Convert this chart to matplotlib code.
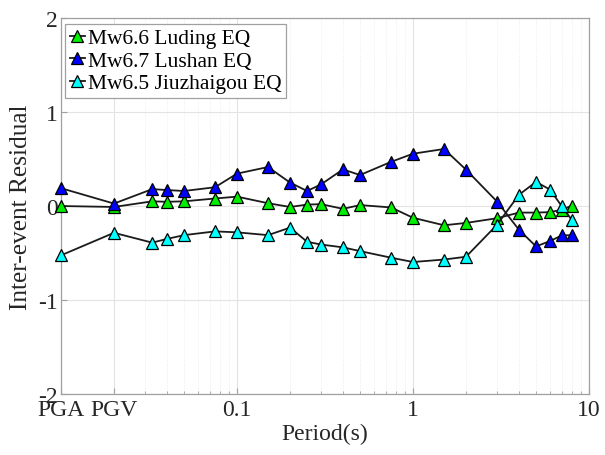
import matplotlib
matplotlib.use("Agg")
import matplotlib.pyplot as plt
import numpy as np

periods = [0.01, 0.02, 0.033, 0.04, 0.05, 0.075, 0.1, 0.15, 0.2, 0.25, 0.3, 0.4, 0.5,
           0.75, 1, 1.5, 2, 3, 4, 5, 6, 7, 8]
luding = [0.00, -0.01, 0.05, 0.045, 0.05, 0.08, 0.10, 0.03, -0.01, 0.015, 0.02, -0.03, 0.01,
          -0.015, -0.125, -0.205, -0.18, -0.13, -0.07, -0.07, -0.065, -0.04, 0.005]
lushan = [0.19, 0.026, 0.18, 0.17, 0.16, 0.20, 0.345, 0.415, 0.25, 0.16, 0.23, 0.39, 0.33,
          0.47, 0.557, 0.607, 0.387, 0.048, -0.253, -0.43, -0.373, -0.313, -0.31]
jiuzhai = [-0.525, -0.285, -0.39, -0.35, -0.31, -0.27, -0.28, -0.31, -0.23, -0.38, -0.41, -0.44, -0.48,
           -0.55, -0.596, -0.57, -0.54, -0.2, 0.12, 0.257, 0.175, -0.002, -0.15]

series_names = ["Mw6.6 Luding EQ", "Mw6.7 Lushan EQ", "Mw6.5 Jiuzhaigou EQ"]
series_colors = ["#00ee00", "#0000ff", "#00ffff"]

xtick_vals = [0.01, 0.02, 0.1, 1, 10]
xtick_labels = ["PGA", "PGV", "0.1", "1", "10"]
ytick_vals = [-2, -1, 0, 1, 2]

plt.rcParams['font.family'] = ['Liberation Serif', 'DejaVu Serif']

fig = plt.figure(figsize=(6.05, 4.56), dpi=100)
ax = fig.add_axes([0.1008, 0.134, 0.8728, 0.824])

for vals, name, col in zip([luding, lushan, jiuzhai], series_names, series_colors):
    ax.plot(periods, vals, '-^', color='#1a1a1a', lw=1.3, marker='^', ms=9,
            markerfacecolor=col, markeredgecolor='black', markeredgewidth=0.9,
            label=name, clip_on=False, zorder=3)

ax.set_xscale('log')
ax.set_xlim(0.01, 10)
ax.set_ylim(-2, 2)
ax.set_xticks(xtick_vals)
ax.set_xticklabels(xtick_labels)
ax.set_yticks(ytick_vals)
ax.set_yticklabels([str(v) for v in ytick_vals])

ax.grid(True, which='major', color='#e3e3e3', lw=0.8, ls='-')
ax.grid(True, which='minor', axis='x', color='#ececec', lw=0.7, ls=':')
ax.set_axisbelow(True)

for s in ax.spines.values():
    s.set_color('#a0a0a0')
    s.set_linewidth(0.9)
ax.tick_params(axis='both', which='both', direction='in', colors='#a0a0a0',
               labelcolor='#262626', labelsize=17, length=4)
ax.tick_params(axis='x', which='minor', length=2)
ax.tick_params(axis='y', pad=2)
ax.tick_params(axis='x', pad=4)

ax.set_xlabel("Period(s)", fontsize=17, color='#262626', labelpad=2)
ax.set_ylabel("Inter-event Residual", fontsize=18.3, color='#262626', labelpad=5)

leg = ax.legend(loc='upper left', bbox_to_anchor=(0.008, 0.985), fontsize=15.5,
                handlelength=0.7, handletextpad=0.15, borderpad=0.2, labelspacing=0.12,
                borderaxespad=0, fancybox=False, framealpha=1, numpoints=1)
leg.get_frame().set_edgecolor('#a0a0a0')
leg.get_frame().set_linewidth(0.9)

fig.savefig("out.png", dpi=100)
